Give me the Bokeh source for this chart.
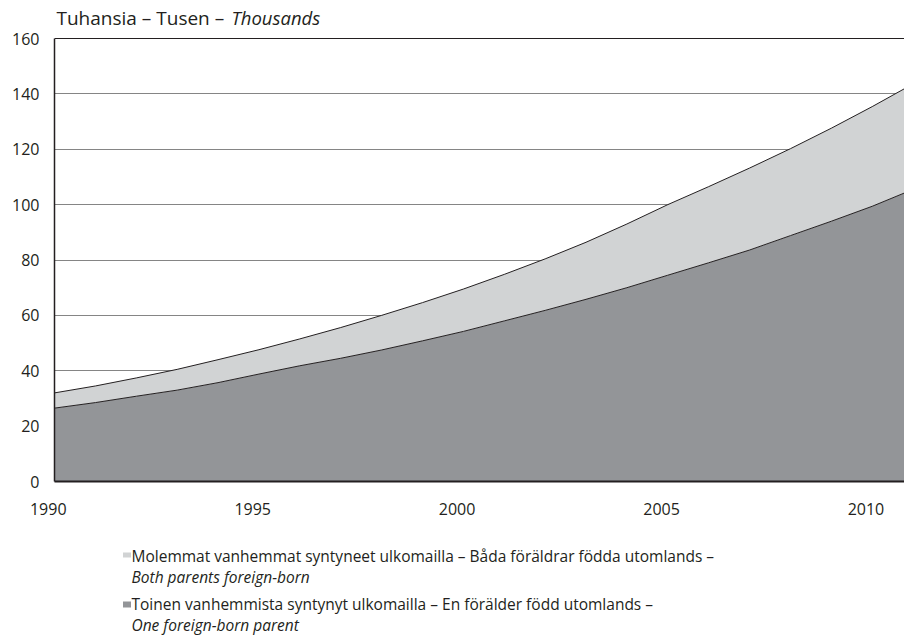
from bokeh.plotting import figure
from bokeh.layouts import column
from bokeh.models import Range1d, FixedTicker, Span
from bokeh.core.properties import value
from bokeh.embed import file_html
from bokeh.resources import INLINE

# ---- data (thousands) ----
years = [1990, 1991, 1992, 1993, 1994, 1995, 1996, 1997, 1998, 1999, 2000,
         2001, 2002, 2003, 2004, 2005, 2006, 2007, 2008, 2009, 2010, 2011]
one_parent = [26.5, 28.5, 30.8, 33.0, 35.7, 38.8, 41.8, 44.5, 47.5, 50.8, 54.2,
              58.0, 61.8, 65.8, 70.0, 74.5, 79.0, 83.6, 88.8, 94.0, 99.4, 105.5]
total = [32.0, 34.5, 37.4, 40.5, 44.0, 47.6, 51.5, 55.6, 60.0, 64.6, 69.5,
         74.8, 80.4, 86.4, 93.0, 100.0, 106.5, 113.2, 120.2, 127.6, 135.4, 143.6]
x_tick_years = [1990, 1995, 2000, 2005, 2010]
y_ticks = [0, 20, 40, 60, 80, 100, 120, 140, 160]
Y_MAX = 160

title_parts = ["Tuhansia – Tusen – ", "Thousands"]
legend_lines = [
    "Molemmat vanhemmat syntyneet ulkomailla – Båda föräldrar födda utomlands –",
    "Both parents foreign-born",
    "Toinen vanhemmista syntynyt ulkomailla – En förälder född utomlands –",
    "One foreign-born parent",
]

DARK = "#939598"
LIGHT = "#d1d3d4"
INK = "#231f20"
GRID = "#858585"
FONT = "Open Sans"
FS = "16px"

W = 904
FRAME_LEFT = 54       # px
PLOT_TOP = 38         # px row of the 160 line
PLOT_BOTTOM = 481     # px row of the 0 line
MAIN_H = 525          # canvas rows 0 .. 525
LEG_H = 638 - MAIN_H
TXT_SHIFT = 6         # text glyph renders a little lower than its nominal baseline

# the frame reaches the canvas top so the title can sit inside it;
# the value axis itself stops at 160
y_top = Y_MAX * PLOT_BOTTOM / (PLOT_BOTTOM - PLOT_TOP)

p = figure(width=W, height=MAIN_H, output_backend="svg", toolbar_location=None,
           x_range=Range1d(1990, 2010.79), y_range=Range1d(0, y_top),
           min_border_left=FRAME_LEFT, min_border_right=0, min_border_top=0,
           min_border_bottom=MAIN_H - PLOT_BOTTOM)
p.outline_line_color = None
p.extra_x_ranges = {"px": Range1d(FRAME_LEFT, W)}
p.extra_y_ranges = {"px": Range1d(PLOT_BOTTOM, 0)}

zero = [0] * len(years)
p.varea(x=years, y1=zero, y2=one_parent, fill_color=DARK)
p.varea(x=years, y1=one_parent, y2=total, fill_color=LIGHT)
p.line(x=years, y=one_parent, line_color=INK, line_width=1)
p.line(x=years, y=total, line_color=INK, line_width=1)

p.yaxis.ticker = FixedTicker(ticks=y_ticks)
p.yaxis.bounds = (0, Y_MAX)
p.yaxis.major_tick_line_color = None
p.yaxis.minor_tick_line_color = None
p.yaxis.axis_line_color = INK
p.yaxis.axis_line_width = 1.5
p.yaxis.major_label_standoff = 9
p.yaxis.major_label_text_font = FONT
p.yaxis.major_label_text_font_size = FS
p.yaxis.major_label_text_color = INK

p.xaxis.ticker = FixedTicker(ticks=x_tick_years)
p.xaxis.major_tick_line_color = None
p.xaxis.minor_tick_line_color = None
p.xaxis.axis_line_color = INK
p.xaxis.axis_line_width = 2
p.xaxis.major_label_standoff = 10
p.xaxis.major_label_text_font = FONT
p.xaxis.major_label_text_font_size = FS
p.xaxis.major_label_text_color = INK
p.xaxis.major_label_overrides = {y: str(y) + "\u00a0\u00a0\u00a0" for y in x_tick_years}

p.xgrid.grid_line_color = None
p.ygrid.ticker = FixedTicker(ticks=y_ticks[1:-1])
p.ygrid.grid_line_color = GRID
p.ygrid.grid_line_width = 1
p.add_layout(Span(location=Y_MAX, dimension="width", line_color=INK, line_width=1))

# title (pixel coordinates through the extra "px" ranges)
p.text(x=[56], y=[23 - TXT_SHIFT], text=[title_parts[0]], text_font=value(FONT),
       text_font_size=value("19px"), text_color=INK, text_baseline="alphabetic",
       x_range_name="px", y_range_name="px")
p.text(x=[231], y=[23 - TXT_SHIFT], text=[title_parts[1]], text_font=value(FONT),
       text_font_size=value("18.5px"), text_color=INK, text_baseline="alphabetic",
       text_font_style="italic", x_range_name="px", y_range_name="px")

# ---- legend strip (rows 525 .. 638); its frame is aligned with the chart frame ----
g = figure(width=W, height=LEG_H, output_backend="svg", toolbar_location=None,
           x_axis_type=None, y_axis_type=None,
           x_range=Range1d(FRAME_LEFT, W), y_range=Range1d(LEG_H, 0),
           min_border_left=0, min_border_right=0, min_border_top=0, min_border_bottom=0)
g.outline_line_color = None
top0 = MAIN_H
g.quad(left=[122.5, 122.5], right=[130.5, 130.5],
       top=[552 - top0, 601 - top0], bottom=[557 - top0, 607 - top0],
       fill_color=[LIGHT, DARK], line_color=None)
styles = ["normal", "italic", "normal", "italic"]
bases = [561.5, 582.5, 609, 630]
for txt, st, b in zip(legend_lines, styles, bases):
    g.text(x=[131], y=[b - top0 - TXT_SHIFT], text=[txt], text_font=value(FONT),
           text_font_size=value("15.5px"), text_color=INK, text_baseline="alphabetic",
           text_font_style=st)

layout = column(p, g, spacing=0)
open("out.html", "w").write(file_html(layout, INLINE))
